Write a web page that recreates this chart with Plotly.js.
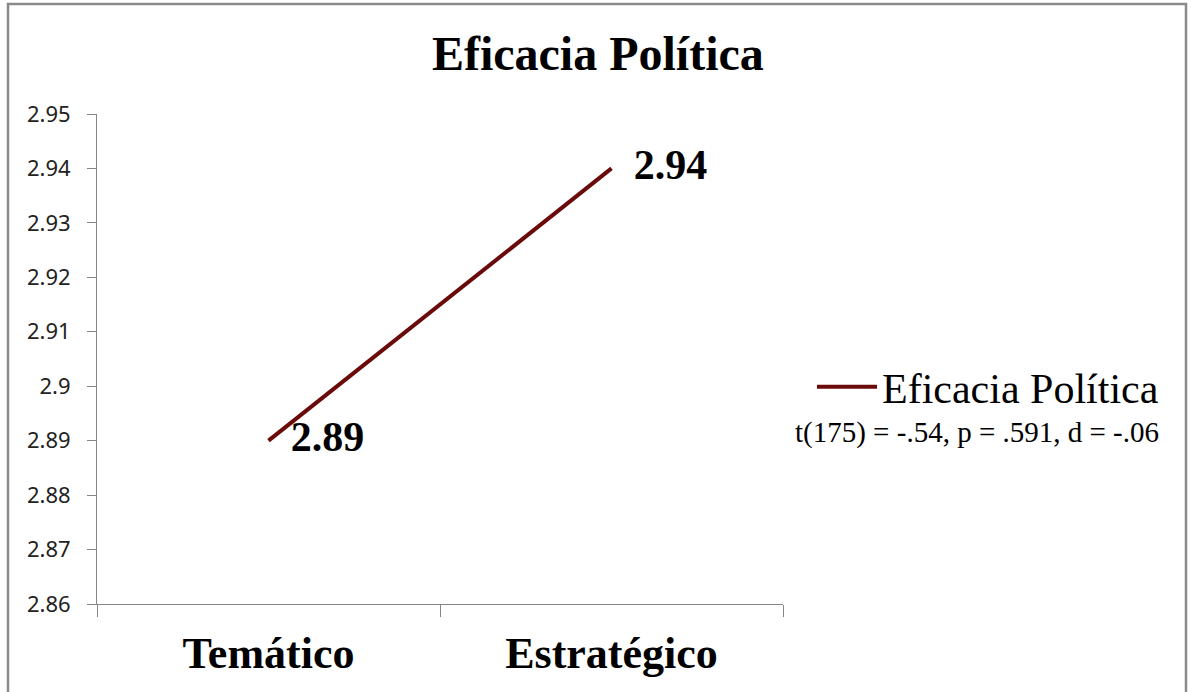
<!DOCTYPE html>
<html>
<head>
<meta charset="utf-8">
<script src="https://cdn.plot.ly/plotly-3.0.1.min.js"></script>
<style>
  html, body { margin: 0; padding: 0; background: #ffffff; }
  #chart { width: 1191px; height: 692px; }
</style>
</head>
<body>
<div id="chart"></div>
<script>
// Data
const categories = ['Temático', 'Estratégico'];
const seriesName = 'Eficacia Política';
const seriesValues = [2.89, 2.94];
const yTickVals = [2.86, 2.87, 2.88, 2.89, 2.90, 2.91, 2.92, 2.93, 2.94, 2.95];
const yTickText = ['2.86', '2.87', '2.88', '2.89', '2.9', '2.91', '2.92', '2.93', '2.94', '2.95'];
const statsNote = 't(175) = -.54, p = .591, d = -.06';

// Page geometry (px)
const W = 1191, H = 692;
const M = { l: 97, r: 408, t: 114, b: 88 };
const plotW = W - M.l - M.r;
const plotH = H - M.t - M.b;
const px2x = px => (px - M.l) / plotW;
const px2y = py => (H - M.b - py) / plotH;

const serif = '"Liberation Serif", "Times New Roman", serif';
const sans = '"Noto Sans", "Open Sans", sans-serif';
const lineColor = '#6B0A0A';
const axisGrey = '#868686';

const trace = {
  type: 'scatter',
  mode: 'lines+markers+text',
  name: seriesName,
  x: categories,
  y: seriesValues,
  text: seriesValues.map(v => v.toFixed(2)),
  textposition: 'middle right',
  textfont: { family: serif, size: 42, color: '#000000', weight: 'bold' },
  line: { color: lineColor, width: 4 },
  marker: { size: 34, color: 'rgba(0,0,0,0)' },
  cliponaxis: false,
  hoverinfo: 'skip'
};

const layout = {
  width: W,
  height: H,
  margin: M,
  paper_bgcolor: '#ffffff',
  plot_bgcolor: '#ffffff',
  title: {
    text: '<b>Eficacia Política</b>',
    font: { family: serif, size: 48, color: '#000000' },
    xref: 'container', x: 0.502,
    yref: 'container', y: 1 - 53 / H, yanchor: 'middle'
  },
  xaxis: {
    type: 'category',
    range: [-0.5, 1.5],
    tickson: 'boundaries',
    ticks: 'outside',
    ticklen: 12,
    tickcolor: axisGrey,
    tickwidth: 1,
    showline: true,
    linecolor: axisGrey,
    linewidth: 1,
    showgrid: false,
    zeroline: false,
    tickfont: { family: serif, size: 44, color: '#000000', weight: 'bold' },
    ticklabelstandoff: 10,
    fixedrange: true
  },
  yaxis: {
    range: [2.86, 2.95],
    tickmode: 'array',
    tickvals: yTickVals,
    ticktext: yTickText,
    ticks: 'outside',
    ticklen: 9,
    tickcolor: axisGrey,
    tickwidth: 1,
    showline: true,
    linecolor: axisGrey,
    linewidth: 1,
    showgrid: false,
    zeroline: false,
    tickfont: { family: sans, size: 22, color: '#222222' },
    ticklabelstandoff: 12,
    fixedrange: true
  },
  showlegend: true,
  legend: {
    xref: 'container', yref: 'container',
    x: 812 / W, y: 1 - 387 / H,
    xanchor: 'left', yanchor: 'middle',
    font: { family: serif, size: 42, color: '#000000' },
    itemwidth: 60,
    bgcolor: 'rgba(0,0,0,0)',
    borderwidth: 0
  },
  annotations: [{
    xref: 'paper', yref: 'paper',
    x: px2x(1161), y: px2y(432),
    xanchor: 'right', yanchor: 'middle',
    text: statsNote,
    showarrow: false,
    font: { family: serif, size: 29, color: '#000000' }
  }],
  shapes: [{
    type: 'rect',
    xref: 'paper', yref: 'paper',
    x0: px2x(8), x1: px2x(1186),
    y0: px2y(720), y1: px2y(4),
    line: { color: '#8a8a8a', width: 2.5 },
    fillcolor: 'rgba(0,0,0,0)',
    layer: 'below'
  }]
};

Plotly.newPlot('chart', [trace], layout, { displayModeBar: false, staticPlot: true });
</script>
</body>
</html>
